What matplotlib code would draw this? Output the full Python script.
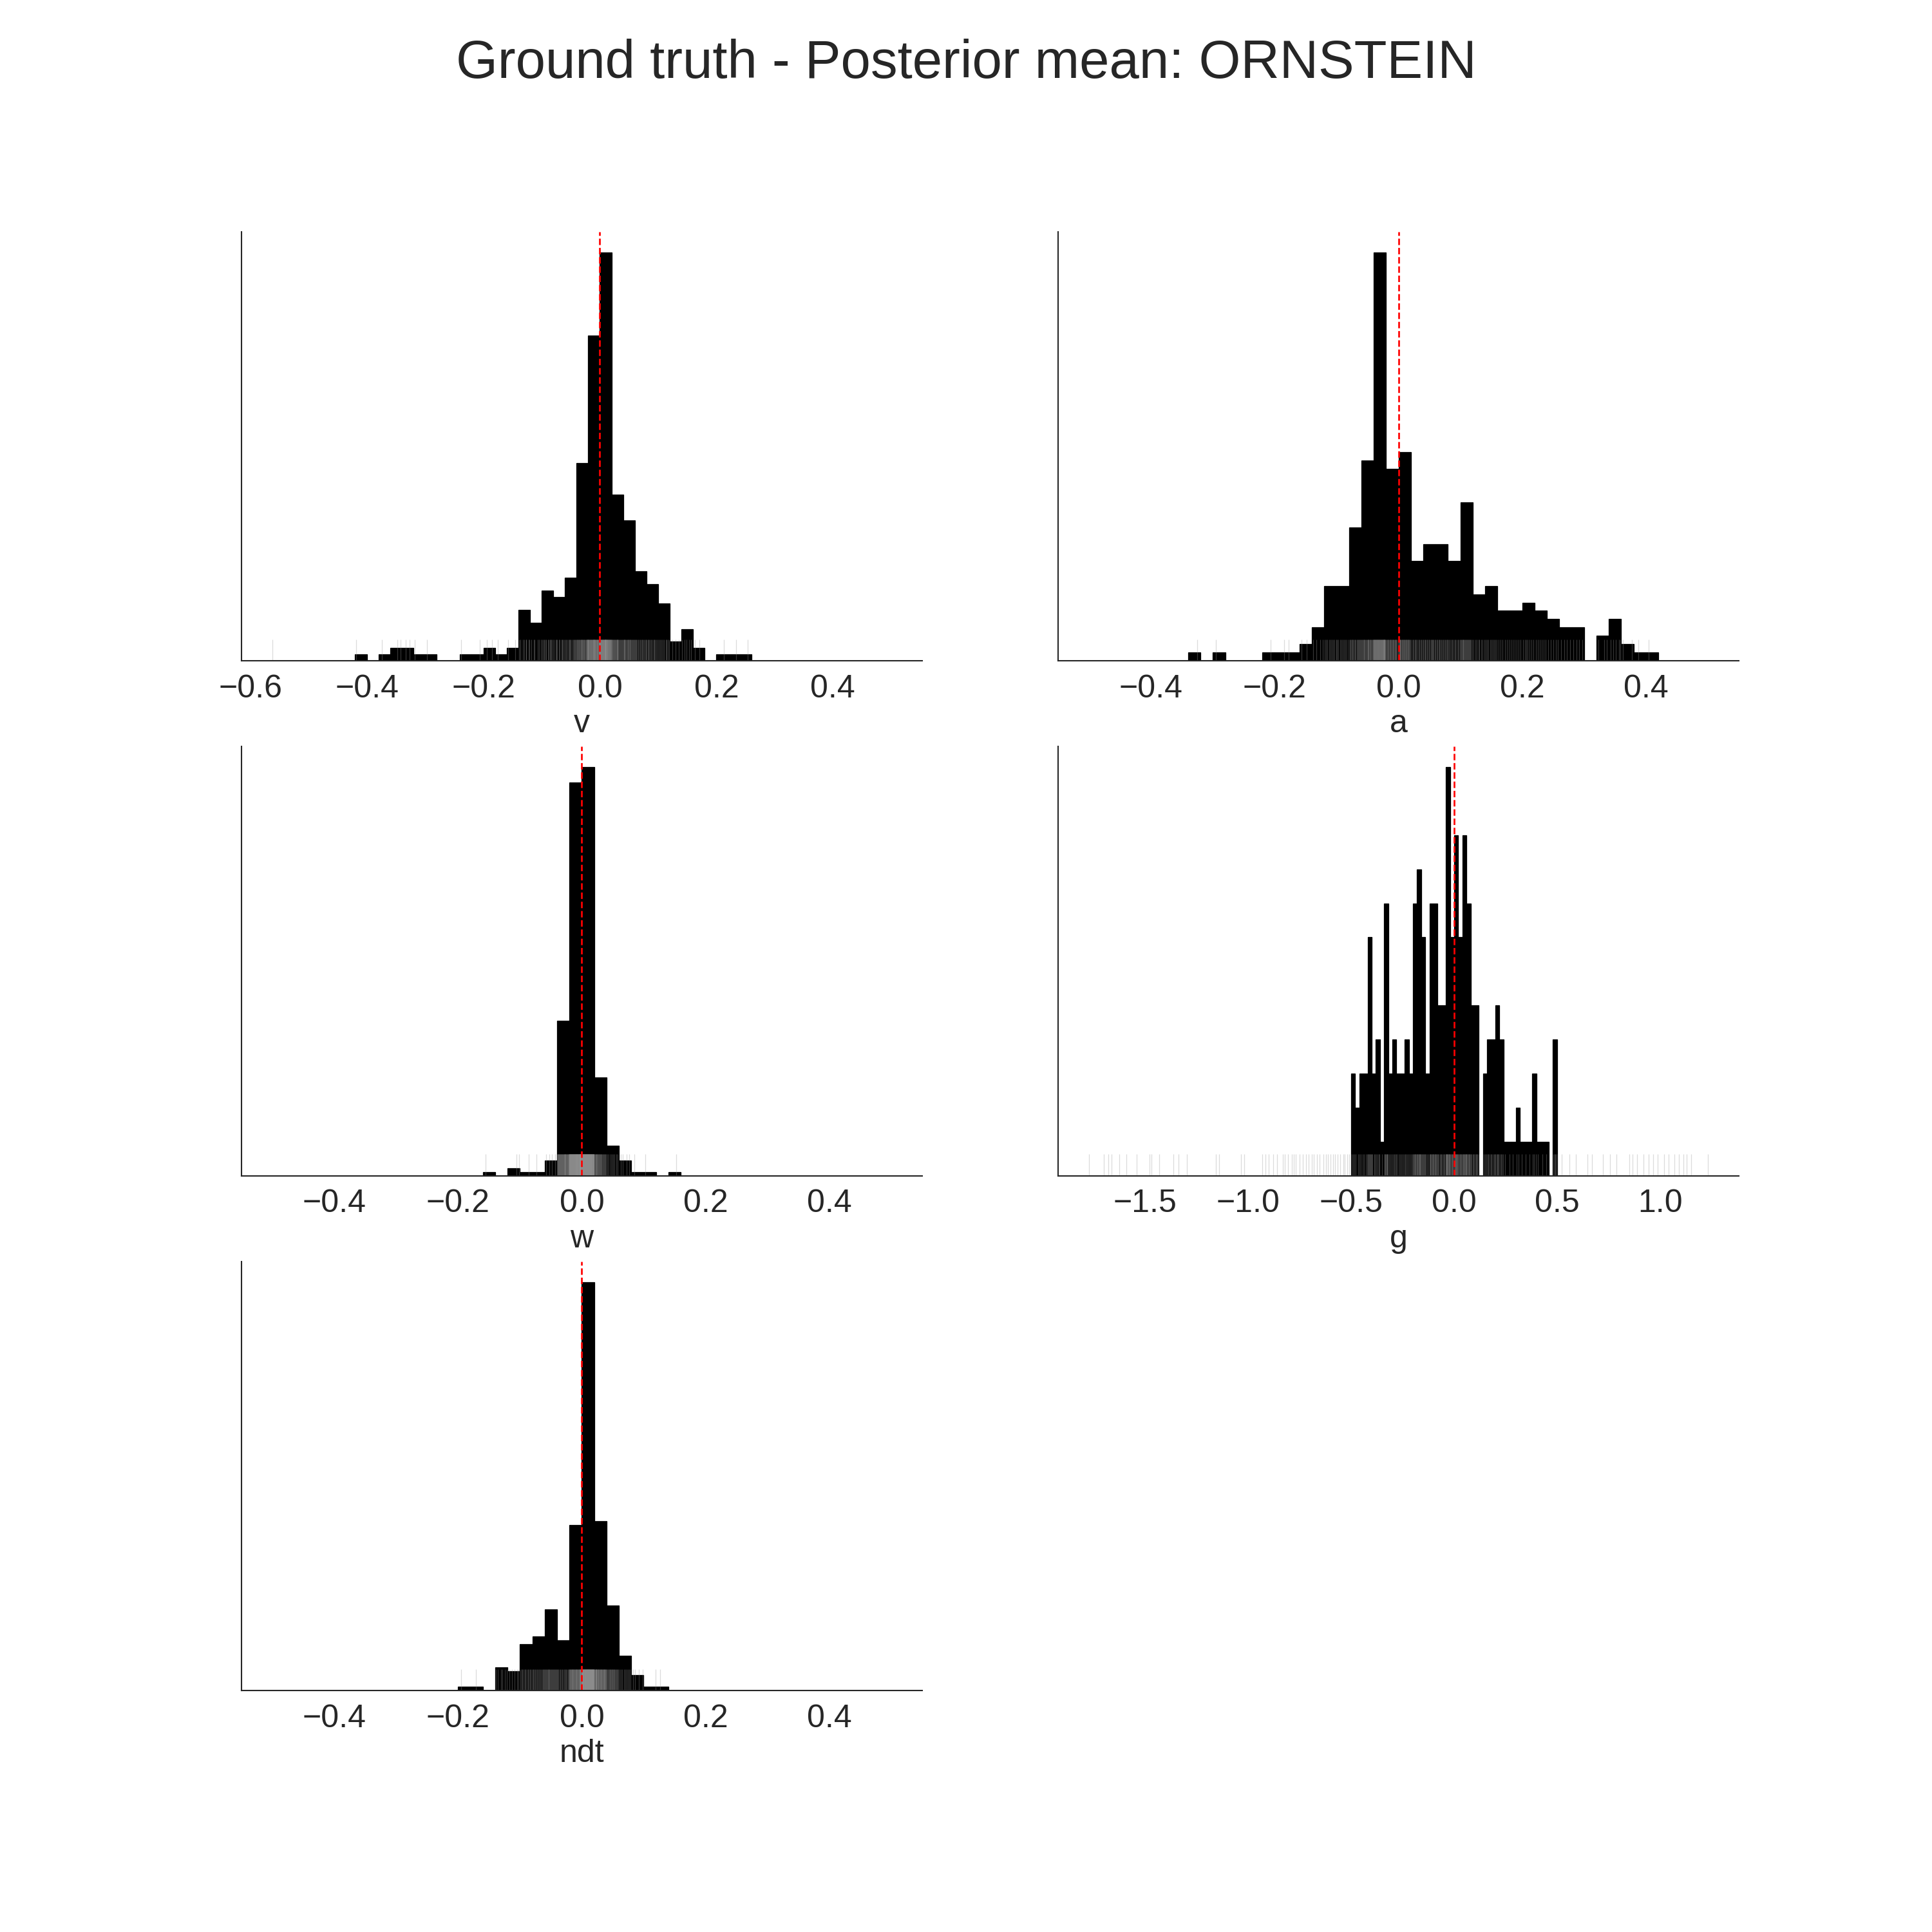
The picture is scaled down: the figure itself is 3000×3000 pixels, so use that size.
"""Ground truth minus posterior mean, one histogram per parameter of the
ORNSTEIN model, with a rug of the individual differences under each."""
import numpy as np
import matplotlib
matplotlib.use("Agg")
from matplotlib import pyplot as plt
from matplotlib.transforms import blended_transform_factory

TEXT_COLOR = "#262626"
BAR_COLOR = "black"
RUG_COLOR = "0.6"
TRUTH_COLOR = "red"

plt.rcParams["font.family"] = ["Liberation Sans", "DejaVu Sans"]
plt.rcParams["text.color"] = TEXT_COLOR
plt.rcParams["axes.labelcolor"] = TEXT_COLOR
plt.rcParams["axes.edgecolor"] = TEXT_COLOR
plt.rcParams["axes.linewidth"] = 0.5
plt.rcParams["xtick.color"] = TEXT_COLOR
plt.rcParams["xtick.labelsize"] = 12
plt.rcParams["axes.labelsize"] = 12
plt.rcParams["axes.labelpad"] = 2
plt.rcParams["xtick.major.size"] = 0
plt.rcParams["xtick.major.pad"] = 5

TITLE = "Ground truth - Posterior mean: ORNSTEIN"
PARAMS = ["v", "a", "w", "g", "ndt"]

# 50 bins of width 0.02 between -0.5 and 0.5, shared by every panel
BINS = np.linspace(-0.5, 0.5, 51)

# bar heights, left to right from -0.5
V_COUNTS = [0, 0, 0, 0, 1, 0, 1, 2, 2, 1,
            1, 0, 0, 1, 1, 2, 1, 2, 8, 6,
            11, 10, 13, 31, 51, 64, 26, 22, 14, 12,
            9, 3, 5, 2, 0, 1, 1, 1, 0, 0,
            0, 0, 0, 0, 0, 0, 0, 0, 0, 0]
A_COUNTS = [0, 0, 0, 0, 0, 0, 0, 0, 1, 0,
            1, 0, 0, 0, 1, 1, 1, 2, 4, 9,
            9, 16, 24, 49, 23, 25, 12, 14, 14, 12,
            19, 8, 9, 6, 6, 7, 6, 5, 4, 4,
            0, 3, 5, 2, 1, 1, 0, 0, 0, 0]
W_COUNTS = [0, 0, 0, 0, 0, 0, 0, 0, 0, 0,
            0, 0, 0, 0, 0, 0, 0, 1, 0, 2,
            1, 1, 4, 41, 104, 108, 26, 8, 4, 1,
            1, 0, 1, 0, 0, 0, 0, 0, 0, 0,
            0, 0, 0, 0, 0, 0, 0, 0, 0, 0]
G_COUNTS = [3, 2, 3, 3, 7, 3, 4, 1, 8, 3,
            4, 3, 3, 4, 3, 8, 9, 7, 3, 8,
            8, 5, 5, 12, 7, 10, 7, 10, 8, 5,
            5, 0, 3, 4, 4, 5, 4, 1, 1, 1,
            2, 1, 1, 1, 3, 1, 1, 1, 0, 4]
NDT_COUNTS = [0, 0, 0, 0, 0, 0, 0, 0, 0, 0,
              0, 0, 0, 0, 0, 1, 1, 0, 6, 5,
              12, 14, 21, 13, 43, 106, 44, 22, 9, 4,
              1, 1, 0, 0, 0, 0, 0, 0, 0, 0,
              0, 0, 0, 0, 0, 0, 0, 0, 0, 0]

# rug positions, in thousandths (estimated where the rug is too dense to read)
V_RUG_MILLI = [
    -562, -418, -374, -348, -342, -333, -327, -318, -297, -238, -206,
    -194, -185, -175, -158, -145,
    -139, -137, -132, -130, -127, -126, -122, -121,
    -118, -113, -112, -107, -104, -101,
    -99, -97, -96, -93, -92, -89, -88, -86, -84, -83, -81,
    -79, -76, -75, -73, -70, -69, -66, -65, -63, -61,
    -59, -58, -56, -54, -53, -51, -50, -48, -46, -45, -44, -42, -41,
    -40, -39, -38, -38, -37, -36, -35, -35, -34, -33, -32, -32, -31, -30,
    -29, -29, -28, -27, -27, -26, -25, -24, -24, -23, -22, -22, -21, -21,
    -20, -20, -20,
    -19, -19, -19, -18, -18, -17, -17, -17, -16, -16, -15, -15, -15, -14,
    -14, -13, -13, -13, -12, -12, -11, -11, -11, -10, -10, -10, -9, -9,
    -8, -8, -8, -7, -7, -7, -6, -6, -5, -5, -5, -4, -4, -4, -3, -3, -2,
    -2, -2, -1, -1, -1, 0,
    0, 1, 1, 1, 1, 2, 2, 2, 3, 3, 3, 3, 4, 4, 4, 5, 5, 5, 5, 6, 6, 6, 7, 7,
    7, 7, 8, 8, 8, 9, 9, 9, 9, 10, 10, 10, 11, 11, 11, 11, 12, 12, 12, 13,
    13, 13, 13, 14, 14, 14, 15, 15, 15, 16, 16, 16, 17, 17, 17, 18, 18, 18,
    19, 19,
    20, 21, 21, 22, 23, 23, 24, 25, 25, 26, 27, 27, 28, 29, 29, 30, 31, 31,
    32, 33, 34, 35, 36, 37, 38, 39,
    40, 41, 42, 43, 43, 44, 45, 46, 47, 48, 48, 49, 50, 51, 52, 53, 54, 55,
    56, 57, 58, 59,
    60, 61, 63, 64, 66, 67, 69, 70, 72, 73, 75, 76, 78, 79,
    80, 82, 83, 85, 87, 88, 90, 92, 93, 95, 97, 99,
    101, 103, 106, 108, 110, 113, 115, 117, 119,
    124, 130, 136, 141, 145, 149, 153, 157, 163, 171,
    213, 234, 254,
]
A_RUG_MILLI = [
    -325, -295, -207, -185, -178, -157, -148,
    -138, -133, -127, -122,
    -119, -117, -115, -112, -110, -108, -106, -104, -101,
    -99, -97, -94, -92, -90, -88, -86, -84, -81,
    -79, -78, -77, -75, -74, -73, -71, -70, -69, -67, -66, -65, -64, -63,
    -62, -61,
    -60, -59, -58, -57, -56, -56, -55, -54, -53, -52, -51, -50, -50, -49,
    -48, -47, -46, -45, -45, -44, -43, -42, -41, -41,
    -40, -40, -39, -39, -39, -38, -38, -37, -37, -37, -36, -36, -35, -35,
    -35, -34, -34, -33, -33, -33, -32, -32, -31, -31, -31, -30, -30, -29,
    -29, -29, -28, -28, -27, -27, -27, -26, -26, -25, -25, -25, -24, -24,
    -23, -23, -23, -22, -22, -21, -21,
    -20, -19, -18, -17, -17, -16, -15, -14, -13, -13, -12, -11, -10, -9,
    -9, -8, -7, -6, -5, -5, -4, -3, -1,
    0, 1, 2, 3, 3, 4, 5, 6, 7, 7, 8, 9, 10, 10, 11, 12, 13, 13, 14, 15, 16,
    16, 17, 18, 19,
    21, 23, 24, 26, 28, 29, 31, 33, 34, 36, 37, 39,
    40, 42, 43, 44, 46, 47, 49, 50, 52, 53, 55, 56, 57, 59,
    60, 62, 63, 65, 66, 67, 69, 70, 72, 73, 75, 76, 78, 79,
    81, 82, 84, 86, 87, 89, 91, 92, 94, 96, 97, 99,
    100, 101, 102, 103, 104, 105, 106, 107, 108, 109, 110, 111, 112, 113,
    114, 115, 116, 117, 119,
    121, 124, 126, 129, 131, 134, 136, 139,
    141, 143, 145, 148, 150, 152, 154, 157, 159,
    162, 165, 168, 172, 175, 178, 182, 185, 188, 191, 194, 197,
    201, 204, 207, 209, 212, 215, 218, 222, 225, 228, 232, 235, 238,
    242, 246, 250, 254, 258, 263, 268, 272, 277, 283, 288, 292, 297,
    323, 332, 337, 343, 347, 351, 356, 358, 363, 377, 388, 404,
]
W_RUG_MILLI = [
    -155, -106, -101, -86, -73, -58, -52, -48, -43,
    -40, -39, -39, -38, -38, -37, -37, -36, -36, -35, -35, -34, -34, -33,
    -33, -32, -32, -31, -31, -30, -30, -29, -29, -28, -28, -27, -27, -26,
    -26, -25, -25, -24, -24, -23, -23, -22, -22, -21, -21, -21, -20,
    -20, -20, -20, -20, -19, -19, -19, -19, -19, -18, -18, -18, -18, -18,
    -17, -17, -17, -17, -17, -16, -16, -16, -16, -16, -15, -15, -15, -15,
    -15, -14, -14, -14, -14, -14, -13, -13, -13, -13, -13, -12, -12, -12,
    -12, -12, -11, -11, -11, -11, -11, -10, -10, -10, -10, -10, -10, -9,
    -9, -9, -9, -9, -8, -8, -8, -8, -8, -8, -7, -7, -7, -7, -7, -6, -6, -6,
    -6, -6, -5, -5, -5, -5, -5, -5, -4, -4, -4, -4, -4, -3, -3, -3, -3, -3,
    -3, -2, -2, -2, -2, -2, -1, -1, -1, -1, -1,
    0, 0, 0, 0, 0, 1, 1, 1, 1, 1, 1, 2, 2, 2, 2, 2, 3, 3, 3, 3, 3, 3, 4, 4,
    4, 4, 4, 5, 5, 5, 5, 5, 5, 6, 6, 6, 6, 6, 7, 7, 7, 7, 7, 7, 8, 8, 8, 8,
    8, 9, 9, 9, 9, 9, 9, 10, 10, 10, 10, 10, 11, 11, 11, 11, 11, 11, 12, 12,
    12, 12, 12, 13, 13, 13, 13, 13, 13, 14, 14, 14, 14, 14, 15, 15, 15, 15,
    15, 15, 16, 16, 16, 16, 16, 17, 17, 17, 17, 17, 18, 18, 18, 18, 18, 19,
    19, 19, 19, 19,
    20, 21, 21, 22, 23, 23, 24, 25, 25, 26, 27, 27, 28, 29, 29, 30, 31, 31,
    32, 33, 34, 35, 36, 37, 38, 39,
    41, 43, 46, 48, 51, 53, 56, 58,
    63, 66, 72, 77, 85, 103, 153,
]
G_RUG_MILLI = [
    -1772, -1700, -1680, -1662, -1627, -1590, -1540, -1480, -1469, -1432,
    -1364, -1338, -1298, -1158, -1140, -1035, -1018, -932, -917, -899,
    -877, -860, -833, -822, -807, -789, -778, -768, -750, -735, -719, -706,
    -691, -680, -667, -654, -636, -623, -614, -601, -588, -577, -566, -553,
    -539, -531, -520, -511,
    -497, -491, -484, -477, -466, -458, -452, -444, -437, -429, -423,
    -419, -416, -413, -410, -407, -404, -401, -396, -389, -383,
    -378, -373, -367, -362, -350,
    -339, -337, -334, -331, -329, -326, -324, -321, -317, -309, -303,
    -298, -292, -287, -282, -277, -269, -263, -257, -249, -244,
    -238, -233, -227, -222, -216, -209, -203,
    -199, -197, -194, -191, -189, -186, -184, -181,
    -179, -177, -175, -172, -170, -168, -166, -164, -162,
    -159, -156, -153, -150, -148, -145, -142, -137, -130, -124,
    -119, -117, -114, -112, -109, -107, -104, -102,
    -99, -97, -94, -92, -89, -87, -84, -82,
    -78, -74, -70, -66, -62, -58, -54, -50, -46, -42,
    -40, -38, -37, -35, -33, -32, -30, -28, -26, -25, -23, -21,
    -19, -16, -13, -10, -8, -5, -2,
    1, 3, 5, 7, 9, 11, 13, 15, 17, 19,
    21, 24, 27, 30, 32, 35, 38,
    41, 43, 45, 47, 49, 51, 53, 55, 57, 59,
    61, 63, 66, 68, 71, 73, 76, 78,
    82, 86, 90, 94, 98, 102, 106, 110, 114, 118,
    143, 150, 156, 162, 167, 173, 178, 182, 187, 193, 198,
    201, 205, 209, 213, 217, 222, 227, 233, 238,
    247, 268, 285, 304, 313, 327, 348, 366, 383, 389, 396, 408, 427, 446,
    482, 487, 492, 497,
    522, 559, 592, 647, 669, 724, 757, 789, 851, 866, 888, 921, 943, 965,
    987, 1020, 1042, 1070, 1092, 1114, 1129, 1151, 1232,
]
NDT_RUG_MILLI = [
    -195, -171,
    -139, -136, -131, -128, -124, -121,
    -117, -113, -109, -105, -102,
    -99, -97, -96, -94, -92, -91, -89, -87, -86, -84, -83, -81,
    -79, -78, -76, -75, -73, -72, -70, -69, -67, -66, -64, -63, -62, -61,
    -60, -59, -58, -57, -56, -55, -54, -53, -52, -51, -50, -49, -48, -47,
    -46, -45, -44, -43, -42, -41, -40,
    -39, -38, -36, -35, -33, -32, -30, -28, -27, -25, -24, -22, -21,
    -20, -20, -19, -19, -18, -18, -17, -17, -16, -16, -15, -15, -15, -14,
    -14, -13, -13, -12, -12, -11, -11, -10, -10, -9, -9, -9, -8, -8, -7,
    -7, -6, -6, -5, -5, -4, -4, -4, -3, -3, -2, -2, -1, -1,
    0, 0, 0, 0, 0, 1, 1, 1, 1, 1, 2, 2, 2, 2, 2, 2, 3, 3, 3, 3, 3, 4, 4, 4,
    4, 4, 5, 5, 5, 5, 5, 5, 6, 6, 6, 6, 6, 7, 7, 7, 7, 7, 8, 8, 8, 8, 8, 8,
    9, 9, 9, 9, 9, 10, 10, 10, 10, 10, 11, 11, 11, 11, 11, 11, 12, 12, 12,
    12, 12, 13, 13, 13, 13, 13, 14, 14, 14, 14, 14, 14, 15, 15, 15, 15, 15,
    16, 16, 16, 16, 16, 17, 17, 17, 17, 17, 17, 18, 18, 18, 18, 18, 19, 19,
    19, 19, 19,
    20, 20, 21, 21, 22, 22, 22, 23, 23, 24, 24, 25, 25, 26, 26, 27, 27, 27,
    28, 28, 29, 29, 30, 30, 31, 31, 31, 32, 32, 33, 33, 34, 34, 35, 35, 36,
    36, 36, 37, 37, 38, 38, 39, 39,
    40, 41, 42, 43, 44, 45, 45, 46, 47, 48, 49, 50, 51, 52, 52, 53, 54, 55,
    56, 57, 58, 59,
    61, 63, 65, 68, 70, 72, 74, 77, 79,
    83, 86, 92, 98, 119, 127,
]

COUNTS = [V_COUNTS, A_COUNTS, W_COUNTS, G_COUNTS, NDT_COUNTS]
RUGS = [V_RUG_MILLI, A_RUG_MILLI, W_RUG_MILLI, G_RUG_MILLI, NDT_RUG_MILLI]

fig, axes = plt.subplots(3, 2, figsize=(10, 10))
fig.subplots_adjust(bottom=0.125, top=0.88)

for ax, name, counts, rug_milli in zip(axes.flat, PARAMS, COUNTS, RUGS):
    # one weighted entry per bin reproduces the bar heights
    ax.hist(BINS[:-1], bins=BINS, weights=counts, color=BAR_COLOR,
            edgecolor=BAR_COLOR, linewidth=0.3)

    # rug: x in data units, height 5% of the axes
    rug_x = np.array(rug_milli) / 1000.0
    trans = blended_transform_factory(ax.transData, ax.transAxes)
    ax.vlines(rug_x, 0, 0.05, transform=trans, color=RUG_COLOR,
              alpha=0.35, linewidth=0.3)

    ax.axvline(0, color=TRUTH_COLOR, linestyle="--", linewidth=0.65)

    ax.set_xlabel(name)
    ax.set_yticks([])
    ax.spines["top"].set_visible(False)
    ax.spines["right"].set_visible(False)

# five parameters, six slots
axes.flat[-1].remove()

fig.suptitle(TITLE, fontsize=20)
fig.savefig("out.png", dpi=300)
